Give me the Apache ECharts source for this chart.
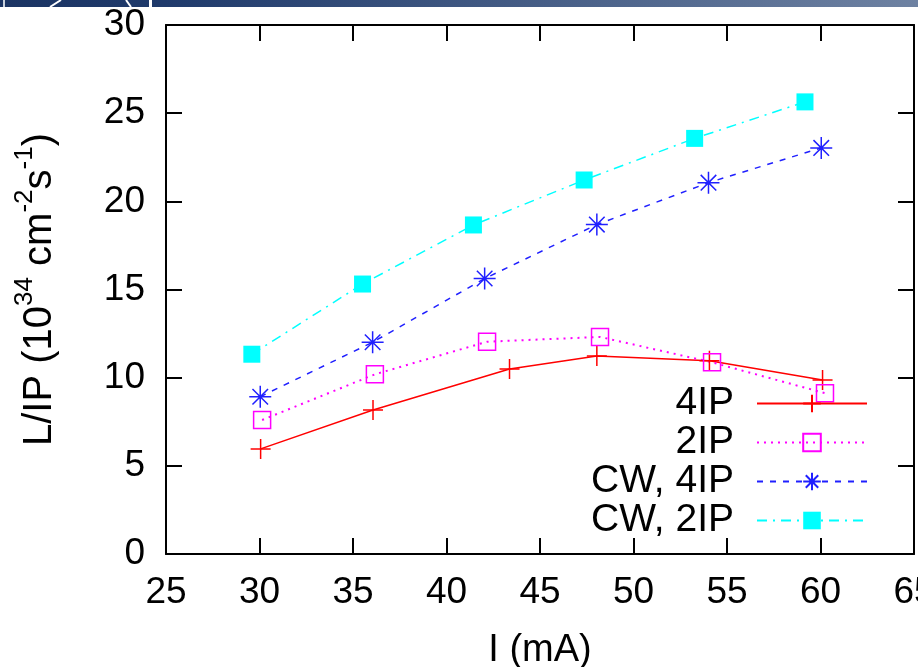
<!DOCTYPE html>
<html><head><meta charset="utf-8">
<script src="https://cdn.jsdelivr.net/npm/echarts@6/dist/echarts.min.js"></script>
<style>html,body{margin:0;padding:0;background:#fff}#c{width:918px;height:667px}</style>
</head><body><div id="c"></div>
<script>
// ---- data ----
const seriesNames = ['4IP', '2IP', 'CW, 4IP', 'CW, 2IP'];
const x4IP   = [30.06, 36.07, 43.37, 48.04, 54.06, 60.11];
const y4IP   = [5.96, 8.17, 10.49, 11.23, 10.96, 9.87];
const x2IP   = [30.14, 36.17, 42.17, 48.21, 54.20, 60.24];
const y2IP   = [7.60, 10.19, 12.04, 12.31, 10.87, 9.12];
const xCW4IP = [30.04, 36.05, 42.04, 48.04, 54.01, 60.04];
const yCW4IP = [8.92, 12.01, 15.62, 18.68, 21.06, 23.03];
const xCW2IP = [29.59, 35.51, 41.44, 47.36, 53.27, 59.17];
const yCW2IP = [11.33, 15.31, 18.66, 21.21, 23.57, 25.64];
const xRange = [25, 65];
const yRange = [0, 30];
const tickStep = 5;
const xTitle = 'I (mA)';
// -------------------------------------

const FONT = 'Liberation Sans, Arial, Helvetica, sans-serif';
const pair = (xs, ys) => xs.map((x, i) => [x, ys[i]]);

const plusPath = 'path://M10,0L10,20M0,10L20,10';
const starPath = 'path://M10,0L10,20M0,10L20,10M2.93,2.93L17.07,17.07M2.93,17.07L17.07,2.93';

const axisLine = { show: true, onZero: false, lineStyle: { color: '#000', width: 2 } };
const axisTick = { show: true, inside: true, length: 16, lineStyle: { color: '#000', width: 2 } };

const chart = echarts.init(document.getElementById('c'), null, { renderer: 'canvas' });
chart.setOption({
  animation: false,
  backgroundColor: '#fff',
  grid: { left: 166, right: 4, top: 25, bottom: 113, containLabel: false, outerBoundsMode: 'none' },
  graphic: [
    { type: 'rect', z: 100, shape: { x: 0, y: 0, width: 918, height: 7 },
      style: { fill: new echarts.graphic.LinearGradient(0, 0, 1, 0, [
        { offset: 0, color: '#1b3463' }, { offset: 0.18, color: '#1f3a6b' }, { offset: 1, color: '#6e82a2' }]) } },
    { type: 'line', z: 101, shape: { x1: 50, y1: 7, x2: 61, y2: 0 }, style: { stroke: '#fff', lineWidth: 2 } },
    { type: 'line', z: 101, shape: { x1: 126, y1: 0, x2: 131, y2: 7 }, style: { stroke: '#fff', lineWidth: 2 } },
    { type: 'rect', z: 101, shape: { x: 149, y: 0, width: 3, height: 7 }, style: { fill: '#fff' } },
    { type: 'rect', z: 101, shape: { x: 3, y: 0, width: 2, height: 7 }, style: { fill: '#c8d0dc' } }
  ],
  xAxis: [
    { type: 'value', min: xRange[0], max: xRange[1], interval: tickStep, position: 'bottom',
      axisLine, axisTick, splitLine: { show: false },
      axisLabel: { fontSize: 37, color: '#000', fontFamily: FONT, margin: 20 },
      name: xTitle, nameLocation: 'middle', nameGap: 78,
      nameTextStyle: { fontSize: 38, color: '#000', fontFamily: FONT } },
    { type: 'value', min: xRange[0], max: xRange[1], interval: tickStep, position: 'top',
      axisLine, axisTick, splitLine: { show: false }, axisLabel: { show: false } }
  ],
  yAxis: [
    { type: 'value', min: yRange[0], max: yRange[1], interval: tickStep, position: 'left',
      axisLine, axisTick, splitLine: { show: false },
      axisLabel: { fontSize: 37, color: '#000', fontFamily: FONT, margin: 21 },
      name: '{n|L/IP (10}{s|34}{n| cm}{s|-2}{n|s}{s|-1}{n|)}',
      nameLocation: 'middle', nameRotate: 90, nameGap: 106,
      nameTextStyle: { color: '#000', fontFamily: FONT,
        rich: {
          n: { fontSize: 40, fontFamily: FONT, color: '#000', lineHeight: 48, verticalAlign: 'bottom' },
          s: { fontSize: 26, fontFamily: FONT, color: '#000', lineHeight: 29, verticalAlign: 'top' }
        } } },
    { type: 'value', min: yRange[0], max: yRange[1], interval: tickStep, position: 'right',
      axisLine, axisTick, splitLine: { show: false }, axisLabel: { show: false } }
  ],
  legend: {
    orient: 'vertical', align: 'right', right: 50, top: 384, padding: 0,
    itemWidth: 110, itemHeight: 22, itemGap: 0,
    selectedMode: false,
    textStyle: { fontSize: 39, color: '#000', fontFamily: FONT, lineHeight: 38, padding: [0, 18, 0, 0] },
    data: seriesNames
  },
  series: [
    { name: seriesNames[0], type: 'line', data: pair(x4IP, y4IP),
      symbol: plusPath, symbolSize: 20,
      lineStyle: { color: '#ff0000', width: 1.5, type: 'solid' },
      itemStyle: { color: 'transparent', borderColor: '#ff0000', borderWidth: 1.5 },
      emphasis: { disabled: true } },
    { name: seriesNames[1], type: 'line', data: pair(x2IP, y2IP),
      symbol: 'rect', symbolSize: 17,
      lineStyle: { color: '#ff00ff', width: 2, type: [2, 5] },
      itemStyle: { color: 'transparent', borderColor: '#ff00ff', borderWidth: 1.5 },
      emphasis: { disabled: true } },
    { name: seriesNames[2], type: 'line', data: pair(xCW4IP, yCW4IP),
      symbol: starPath, symbolSize: 22,
      lineStyle: { color: '#2020ff', width: 1.5, type: [6, 7] },
      itemStyle: { color: 'transparent', borderColor: '#2020ff', borderWidth: 1.5 },
      emphasis: { disabled: true } },
    { name: seriesNames[3], type: 'line', data: pair(xCW2IP, yCW2IP),
      symbol: 'rect', symbolSize: 17,
      lineStyle: { color: '#00ffff', width: 1.5, type: [10, 6, 2, 6] },
      itemStyle: { color: '#00ffff', borderWidth: 0 },
      emphasis: { disabled: true } }
  ]
});
</script></body></html>
